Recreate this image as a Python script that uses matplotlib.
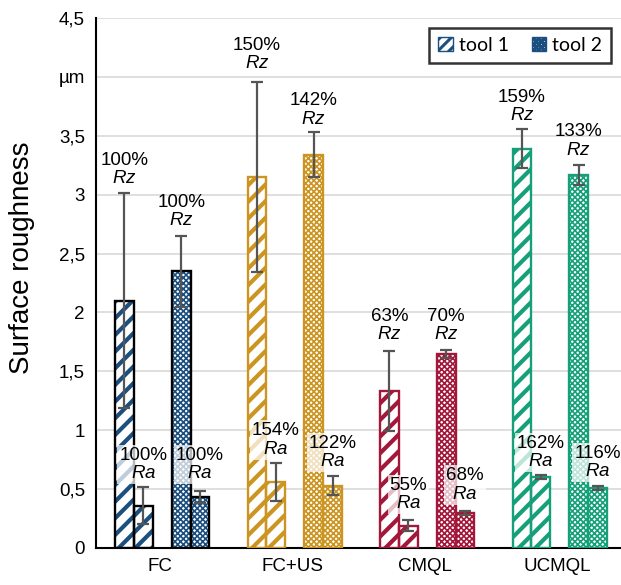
import matplotlib
matplotlib.use('Agg')
import matplotlib.pyplot as plt
from matplotlib.patches import Patch
import numpy as np

# ---------------- data ----------------
categories = ['FC', 'FC+US', 'CMQL', 'UCMQL']
rz_tool1 = [2.10, 3.15, 1.33, 3.39]
rz_tool1_err = [0.91, 0.81, 0.34, 0.165]
ra_tool1 = [0.36, 0.56, 0.19, 0.60]
ra_tool1_err = [0.16, 0.165, 0.045, 0.018]
rz_tool2 = [2.35, 3.34, 1.645, 3.17]
rz_tool2_err = [0.30, 0.19, 0.035, 0.085]
ra_tool2 = [0.435, 0.53, 0.297, 0.507]
ra_tool2_err = [0.05, 0.083, 0.02, 0.018]

rz_tool1_pct = ['100%', '150%', '63%', '159%']
ra_tool1_pct = ['100%', '154%', '55%', '162%']
rz_tool2_pct = ['100%', '142%', '70%', '133%']
ra_tool2_pct = ['100%', '122%', '68%', '116%']

y_ticks = [0, 0.5, 1, 1.5, 2, 2.5, 3, 3.5, 4, 4.5]
y_ticklabels = ['0', '0,5', '1', '1,5', '2', '2,5', '3', '3,5', 'µm', '4,5']
legend_labels = ['tool 1', 'tool 2']
y_title = 'Surface roughness'

# ---------------- layout / style ----------------
colors = ['#1B4F80', '#CC9420', '#A3173A', '#15A07A']
edge_colors = ['black', '#CC9420', '#A3173A', '#15A07A']
# label anchor heights (centre of the two-line label), layout only
rz1_lab_y = [3.213, 4.19, 1.89, 3.75]
rz2_lab_y = [2.86, 3.72, 1.89, 3.455]
ra1_lab_y = [0.709, 0.917, 0.454, 0.81]
ra2_lab_y = [0.709, 0.81, 0.535, 0.726]

DPI = 100

plt.rcParams['font.family'] = ['Liberation Sans', 'DejaVu Sans']
plt.rcParams['mathtext.fontset'] = 'custom'
plt.rcParams['mathtext.it'] = 'Liberation Sans:italic'
plt.rcParams['mathtext.rm'] = 'Liberation Sans'

fig = plt.figure(figsize=(621 / DPI, 585 / DPI), dpi=DPI)
ax = fig.add_axes([96 / 621, 1 - 548 / 585, 530 / 621, 530 / 585])

w = 0.1425
x = np.arange(len(categories))
HATCH1 = '//'
HATCH2 = 'xxxxxx'


def draw_bars(xpos, vals, errs, hatch, hlw):
    plt.rcParams['hatch.linewidth'] = hlw
    for i, (xp, v, e) in enumerate(zip(xpos, vals, errs)):
        b = ax.bar(xp, v, width=w, color='white', edgecolor=colors[i],
                   hatch=hatch, linewidth=0, zorder=2)
        for p in b:
            try:
                p.set_hatch_linewidth(hlw)
            except Exception:
                pass
        ax.bar(xp, v, width=w, fill=False, edgecolor=edge_colors[i],
               linewidth=1.7, zorder=3)
        ax.errorbar(xp, v, yerr=e, fmt='none', ecolor='#555555',
                    elinewidth=1.6, capsize=4.5, capthick=1.6, zorder=4)


draw_bars(x - 2 * w, rz_tool1, rz_tool1_err, HATCH1, 3.0)
draw_bars(x - w, ra_tool1, ra_tool1_err, HATCH1, 3.0)
draw_bars(x + w, rz_tool2, rz_tool2_err, HATCH2, 1.2)
draw_bars(x + 2 * w, ra_tool2, ra_tool2_err, HATCH2, 1.2)


def draw_labels(xpos, pcts, ys, kind, box):
    for xp, pct, yy in zip(xpos, pcts, ys):
        kw = {}
        if box:
            kw['bbox'] = dict(boxstyle='square,pad=0.1', facecolor='white',
                              edgecolor='none', alpha=0.72)
        ax.text(xp, yy, pct + '\n$\\mathit{' + kind + '}$', ha='center',
                va='center', fontsize=13.5, linespacing=1.1, zorder=5,
                **kw)


draw_labels(x - 2 * w, rz_tool1_pct, rz1_lab_y, 'Rz', False)
draw_labels(x + w, rz_tool2_pct, rz2_lab_y, 'Rz', False)
draw_labels(x - w, ra_tool1_pct, ra1_lab_y, 'Ra', True)
draw_labels(x + 2 * w, ra_tool2_pct, ra2_lab_y, 'Ra', True)

ax.set_xlim(-0.5, 3.5)
ax.set_ylim(0, 4.5)
ax.set_yticks(y_ticks)
ax.set_yticklabels(y_ticklabels, fontsize=13.5)
ax.set_xticks(x - 0.02)
ax.set_xticklabels(categories, fontsize=13.5)
ax.tick_params(axis='y', length=0, pad=8)
ax.tick_params(axis='x', length=0, pad=7)
ax.yaxis.grid(True, color='#D9D9D9', linewidth=1.2, zorder=0)
ax.set_axisbelow(True)
for s in ['top', 'right']:
    ax.spines[s].set_visible(False)
ax.spines['left'].set_linewidth(1.5)
ax.spines['bottom'].set_linewidth(1.5)
fig.text(22 / 621, 1 - 258 / 585, y_title, rotation=90, ha='center',
         va='center', fontsize=20)

plt.rcParams['hatch.linewidth'] = 2.2
h1 = Patch(facecolor='white', edgecolor=colors[0], hatch='///', linewidth=1)
h2 = Patch(facecolor='white', edgecolor=colors[0], hatch='xxxxxx', linewidth=1)
leg = ax.legend([h1, h2], legend_labels, loc='upper right',
                bbox_to_anchor=(611 / 621, 1 - 28 / 585),
                bbox_transform=fig.transFigure, ncol=2,
                frameon=True, fancybox=False, handlelength=0.75,
                handleheight=0.75, handletextpad=0.3, columnspacing=1.2,
                borderpad=0.45, borderaxespad=0,
                prop={'family': 'Lato', 'size': 14})
leg.get_frame().set_edgecolor('black')
leg.get_frame().set_linewidth(1.8)

fig.savefig('out.png', dpi=DPI)
